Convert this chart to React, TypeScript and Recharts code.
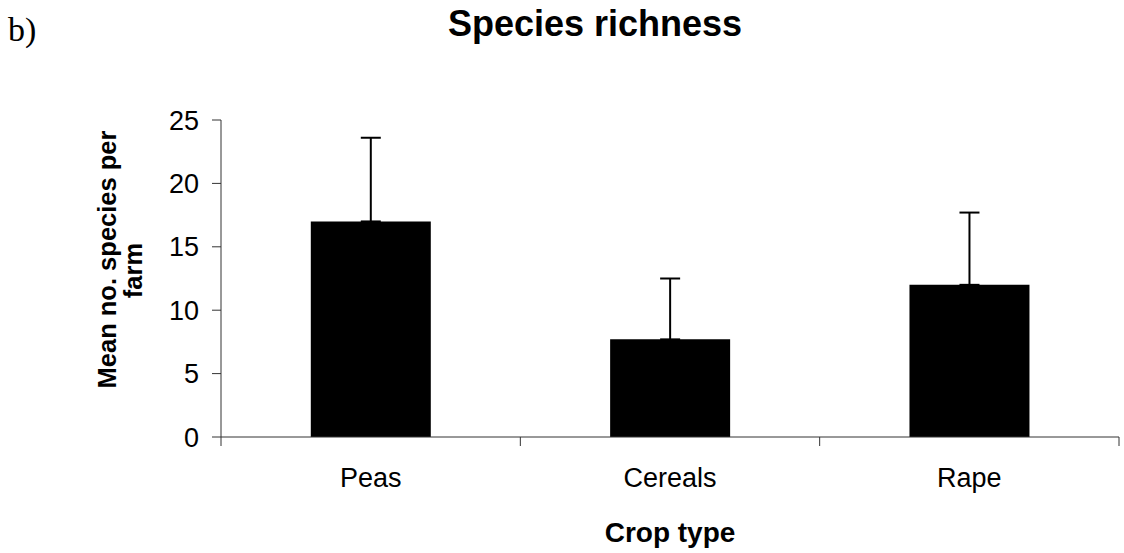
import React from 'react';
import { BarChart, Bar, XAxis, YAxis, ErrorBar, Label } from 'recharts';

const categories = ['Peas', 'Cereals', 'Rape'];
const meanSpecies = [17.0, 7.7, 12.0];
const errorUpper = [6.6, 4.8, 5.7];
const yTicks = [0, 5, 10, 15, 20, 25];

const data = categories.map((crop, i) => ({
  crop,
  mean: meanSpecies[i],
  err: [0, errorUpper[i]],
}));

const FONT = 'Arial, "Liberation Sans", Helvetica, sans-serif';
const AXIS = '#333';
const X_TICK_SIZE = 9;
const X_TICK_MARGIN = 22;

function CategoryTick(props: any) {
  const { x, y, payload, index, visibleTicksCount } = props;
  const half = payload && typeof payload.offset === 'number' ? payload.offset : 0;
  const axisY = y - X_TICK_SIZE - X_TICK_MARGIN;
  const isLast = index === (visibleTicksCount ?? categories.length) - 1;
  return (
    <g>
      <line x1={x - half} x2={x - half} y1={axisY} y2={axisY + X_TICK_SIZE} stroke={AXIS} strokeWidth={1} />
      {isLast && (
        <line x1={x + half} x2={x + half} y1={axisY} y2={axisY + X_TICK_SIZE} stroke={AXIS} strokeWidth={1} />
      )}
      <text x={x} y={y} dy="0.71em" textAnchor="middle" fontFamily={FONT} fontSize={27} fill="#000">
        {payload.value}
      </text>
    </g>
  );
}

function YTitle(props: any) {
  const { viewBox } = props;
  const cy = viewBox.y + viewBox.height / 2;
  const x1 = 116;
  const x2 = 142;
  return (
    <g fontFamily={FONT} fontSize={25.5} fontWeight="bold" fill="#000">
      <text x={x1} y={cy - 19} textAnchor="middle" transform={`rotate(-90, ${x1}, ${cy - 19})`}>
        Mean no. species per
      </text>
      <text x={x2} y={cy - 8} textAnchor="middle" transform={`rotate(-90, ${x2}, ${cy - 8})`}>
        farm
      </text>
    </g>
  );
}

function XTitle(props: any) {
  const { viewBox } = props;
  const cx = viewBox.x + viewBox.width / 2;
  return (
    <text x={cx} y={viewBox.y + 105} textAnchor="middle" fontFamily={FONT} fontSize={28} fontWeight="bold" fill="#000">
      Crop type
    </text>
  );
}

export default function App() {
  return (
    <div style={{ position: 'relative', width: 1124, height: 553, background: '#fff' }}>
      <style>{`body{margin:0;background:#fff;}`}</style>
      <div
        style={{
          position: 'absolute',
          left: 0,
          top: 0,
          fontFamily: '"Liberation Serif", "Times New Roman", serif',
          fontSize: 34,
          lineHeight: '34px',
          paddingLeft: 8,
          paddingTop: 13,
          color: '#000',
        }}
      >
        b)
      </div>
      <div
        style={{
          position: 'absolute',
          left: 595,
          top: 6,
          transform: 'translateX(-50%)',
          whiteSpace: 'nowrap',
          fontFamily: FONT,
          fontWeight: 'bold',
          fontSize: 36,
          lineHeight: '36px',
          color: '#000',
        }}
      >
        Species richness
      </div>
      <BarChart
        width={1124}
        height={553}
        data={data}
        margin={{ top: 120, right: 5, bottom: 0, left: 0 }}
        barCategoryGap="30%"
      >
        <XAxis
          dataKey="crop"
          height={116}
          axisLine={{ stroke: AXIS, strokeWidth: 1 }}
          tickLine={false}
          tickSize={X_TICK_SIZE}
          tickMargin={X_TICK_MARGIN}
          tick={<CategoryTick />}
          interval={0}
        >
          <Label content={<XTitle />} />
        </XAxis>
        <YAxis
          width={221}
          domain={[0, 25]}
          ticks={yTicks}
          interval={0}
          axisLine={{ stroke: AXIS, strokeWidth: 1 }}
          tickLine={{ stroke: AXIS, strokeWidth: 1 }}
          tickSize={9}
          tickMargin={13}
          tick={{ fontFamily: FONT, fontSize: 27, fill: '#000' }}
        >
          <Label content={<YTitle />} />
        </YAxis>
        <Bar dataKey="mean" fill="#000" isAnimationActive={false}>
          <ErrorBar dataKey="err" direction="y" width={10} stroke="#000" strokeWidth={2} isAnimationActive={false} />
        </Bar>
      </BarChart>
    </div>
  );
}
